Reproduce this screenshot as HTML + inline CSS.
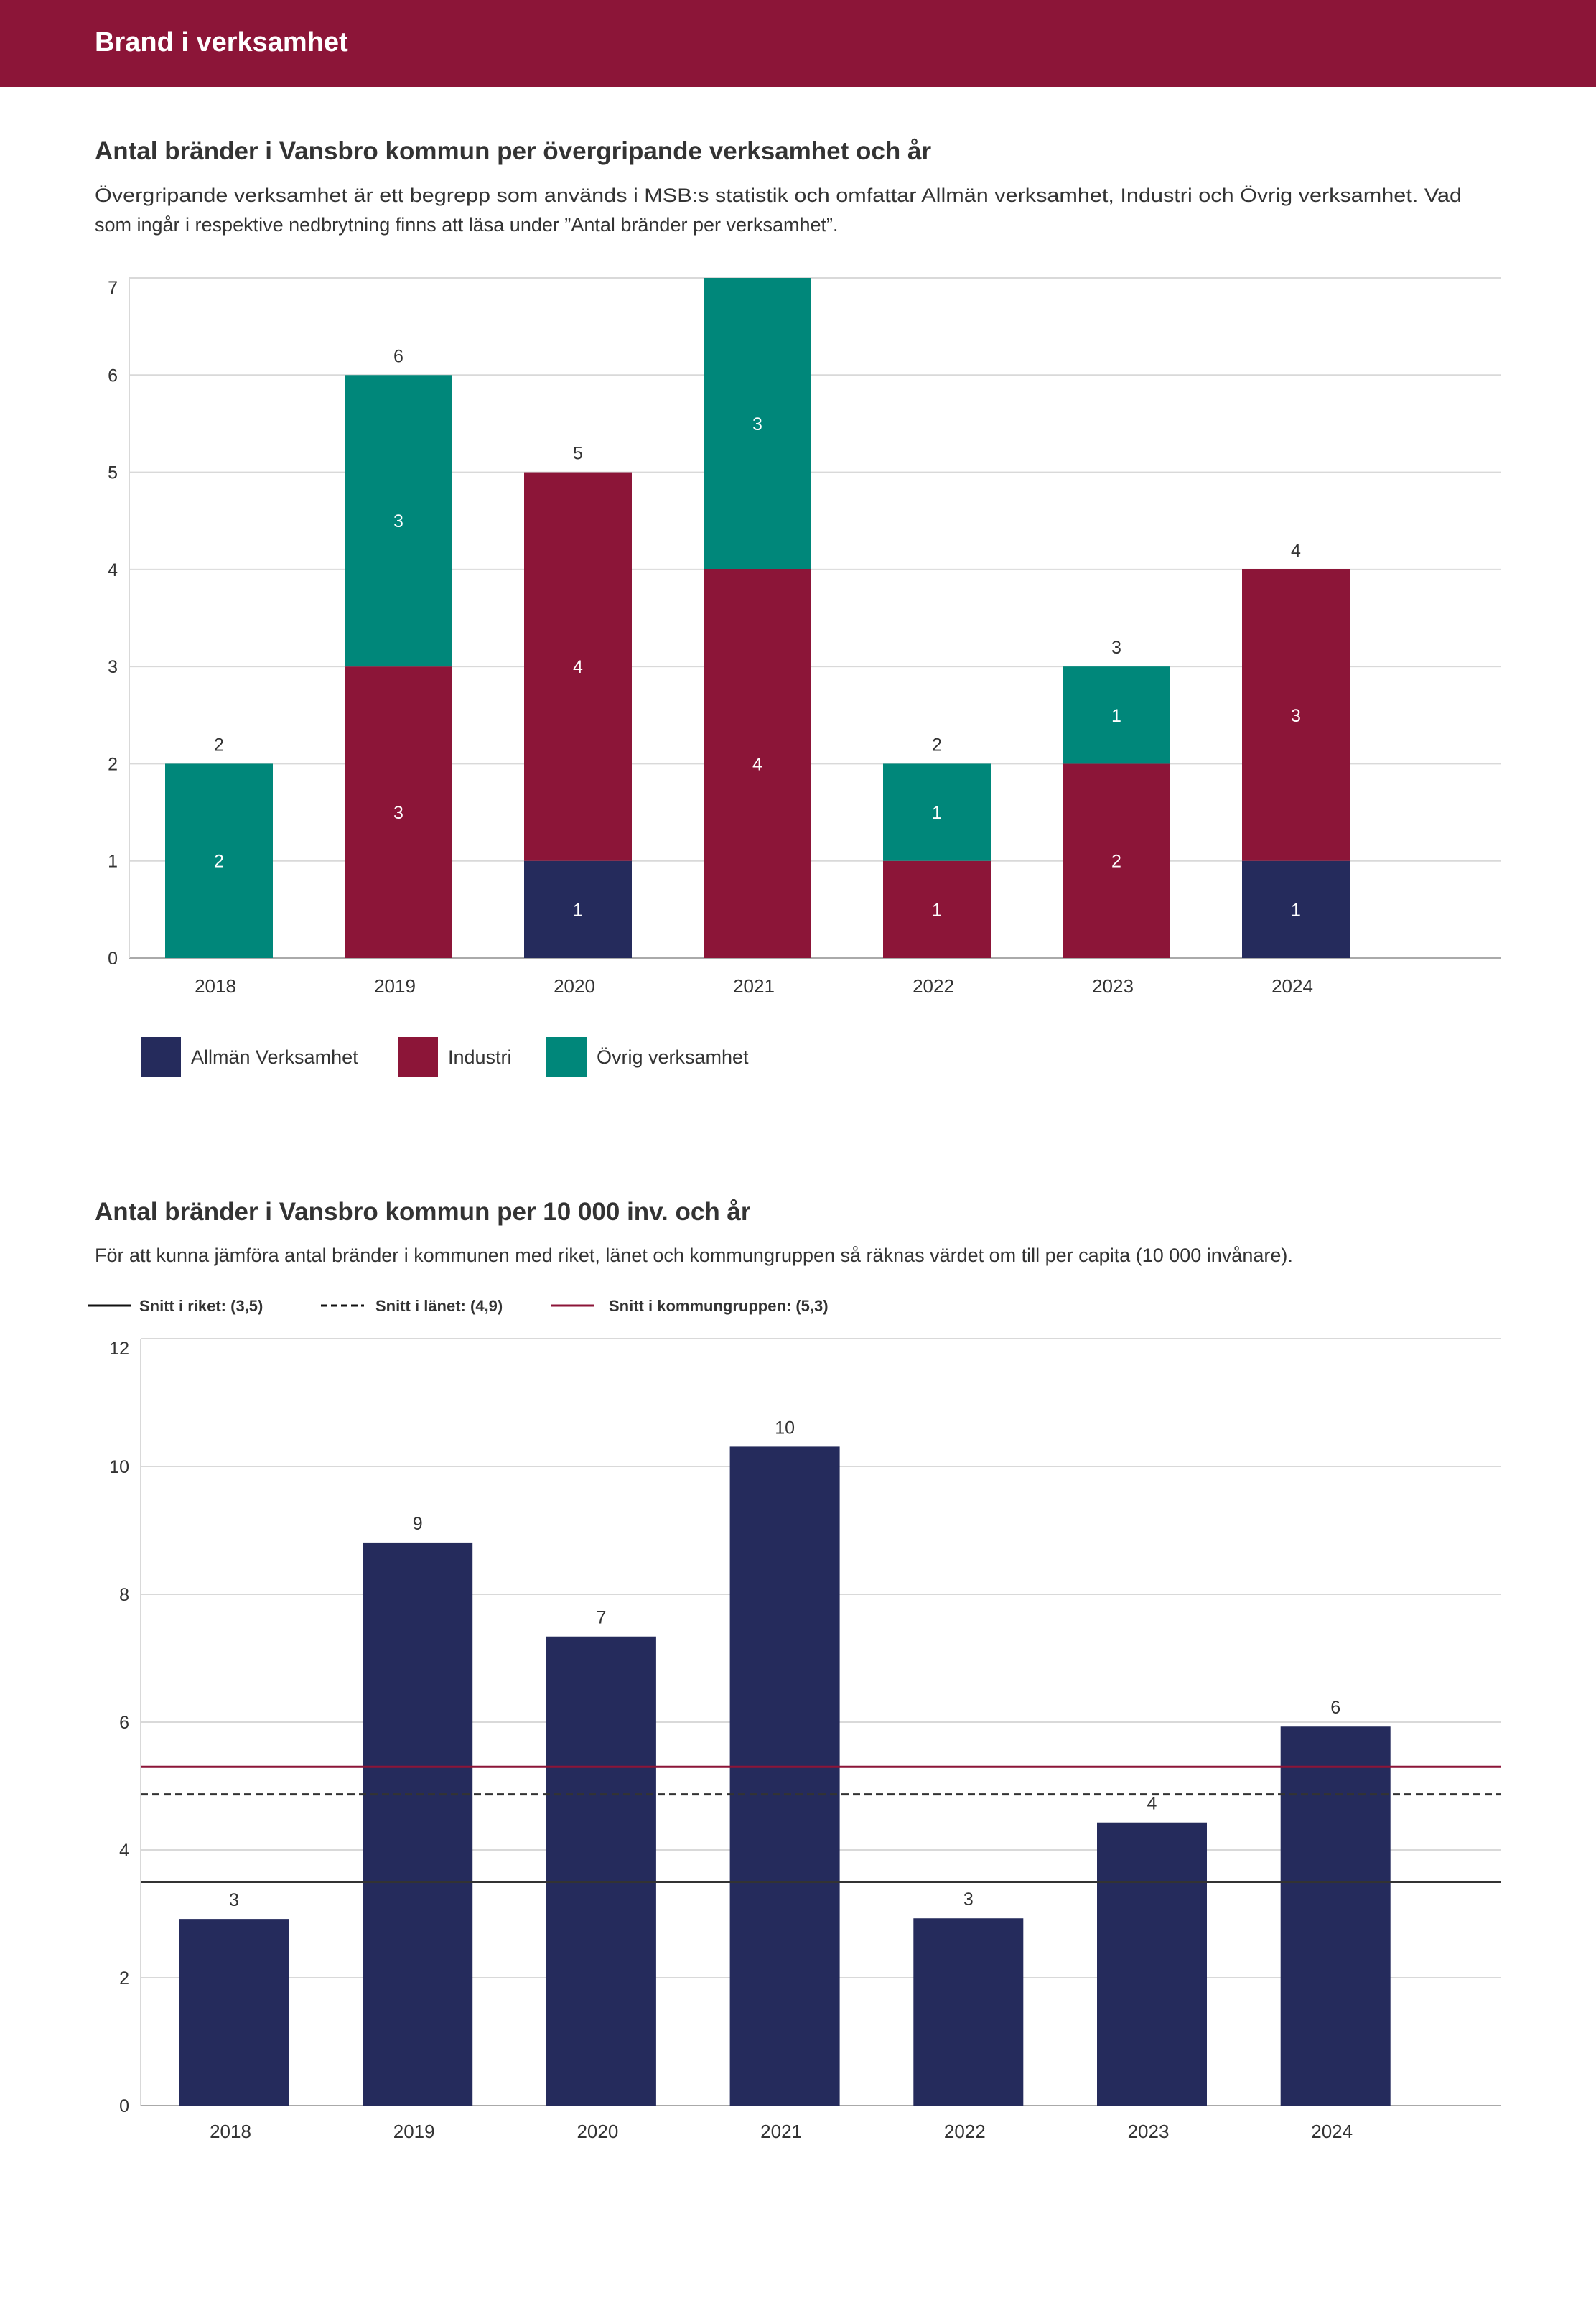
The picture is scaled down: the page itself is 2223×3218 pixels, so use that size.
<!DOCTYPE html>
<html><head><meta charset="utf-8">
<style>
html,body{margin:0;padding:0;background:#fff;}
body{width:2223px;height:3213px;overflow:hidden;font-family:"Liberation Sans",sans-serif;}
svg text{font-family:"Liberation Sans",sans-serif;}
</style></head>
<body>
<svg id="page" width="2223" height="3213" viewBox="0 0 2223 3213" xmlns="http://www.w3.org/2000/svg">
<rect x="0" y="0" width="2223" height="121" fill="#8c1538"/>
<text x="132" y="71" font-size="38" font-weight="bold" fill="#fff">Brand i verksamhet</text>

<text x="132" y="222" font-size="35" font-weight="bold" fill="#333">Antal bränder i Vansbro kommun per övergripande verksamhet och år</text>
<text x="132" y="281" font-size="27" fill="#333" textLength="1904" lengthAdjust="spacingAndGlyphs">Övergripande verksamhet är ett begrepp som används i MSB:s statistik och omfattar Allmän verksamhet, Industri och Övrig verksamhet. Vad</text>
<text x="132" y="322" font-size="27" fill="#333">som ingår i respektive nedbrytning finns att läsa under ”Antal bränder per verksamhet”.</text>
<g id="chart1"></g>

<text x="132" y="1699" font-size="35" font-weight="bold" fill="#333">Antal bränder i Vansbro kommun per 10 000 inv. och år</text>
<text x="132" y="1757" font-size="27" fill="#333">För att kunna jämföra antal bränder i kommunen med riket, länet och kommungruppen så räknas värdet om till per capita (10 000 invånare).</text>
<g id="chart2"></g>
</svg>
<script>
const NS="http://www.w3.org/2000/svg";
function mk(parent,tag,attrs,txt){const e=document.createElementNS(NS,tag);for(const k in attrs)e.setAttribute(k,attrs[k]);if(txt!==undefined)e.textContent=txt;parent.appendChild(e);return e;}

// ---- Chart 1 data ----
const years1=["2018","2019","2020","2021","2022","2023","2024"];
const allman=[0,0,1,0,0,0,1];
const industri=[0,3,4,4,1,2,3];
const ovrig=[2,3,0,3,1,1,0];
const yTicks1=[0,1,2,3,4,5,6,7];
const seriesNames1=["Allmän Verksamhet","Industri","Övrig verksamhet"];

// ---- Chart 2 data ----
const years2=["2018","2019","2020","2021","2022","2023","2024"];
const perCapita=[2.92,8.81,7.34,10.31,2.93,4.43,5.93];
const perCapitaLabels=["3","9","7","10","3","4","6"];
const yTicks2=[0,2,4,6,8,10,12];
const avgRiket=3.5, avgLanet=4.87, avgGrupp=5.3;
const avgLabels=["Snitt i riket: (3,5)","Snitt i länet: (4,9)","Snitt i kommungruppen: (5,3)"];

const NAVY="#252b5c",MAROON="#8c1538",TEAL="#00877a",GRID="#d9d9d9",TXT="#333";

// Chart 1
(function(){
  const g=document.getElementById("chart1");
  const L=180,R=2090,Y0=1334,Ytop=387,maxV=7,band=250,bw=150;
  const y=v=>Y0-(v/maxV)*(Y0-Ytop);
  const x=i=>L+band*i+band/2;
  yTicks1.forEach(t=>{
    const ln=mk(g,"line",{x1:L,x2:R,y1:y(t),y2:y(t),stroke:t===0?"#aaa":GRID,"stroke-width":2});
    
    
    const tx=mk(g,"text",{x:L-16,y:y(t)+(t===maxV?22:9),"font-size":25,fill:TXT,"text-anchor":"end"},t);
    
    
  });
  const ax=mk(g,"line",{x1:L,x2:L,y1:Ytop,y2:Y0,stroke:GRID,"stroke-width":2});
  
  
  const series=[[allman,NAVY],[industri,MAROON],[ovrig,TEAL]];
  years1.forEach((yr,i)=>{
    let base=0;
    series.forEach(([arr,col])=>{
      const v=arr[i]; if(!v)return;
      const r=mk(g,"rect",{x:x(i)-bw/2,y:y(base+v),width:bw,height:y(base)-y(base+v),fill:col});
      
      
      const t=mk(g,"text",{x:x(i),y:y(base+v/2)+9,"font-size":25,fill:"#fff","text-anchor":"middle"},v);
      
      
      base+=v;
    });
    if(base<maxV){
      const tot=mk(g,"text",{x:x(i),y:y(base)-18,"font-size":25,fill:TXT,"text-anchor":"middle"},base);
      
      
    }
    const xl=mk(g,"text",{x:x(i)-5,y:1382,"font-size":26,fill:TXT,"text-anchor":"middle"},yr);
    
    
  });
  const lx=[196,554,761],cols=[NAVY,MAROON,TEAL];
  seriesNames1.forEach((n,k)=>{
    const s=mk(g,"rect",{x:lx[k],y:1444,width:56,height:56,fill:cols[k]});
    
    
    const t=mk(g,"text",{x:lx[k]+70,y:1481,"font-size":27,fill:TXT},n);
    
    
  });
})();

// Chart 2
(function(){
  const g=document.getElementById("chart2");
  const L=196,R=2090,Y0=2932,Ytop=1864,maxV=12,band=255.7,bw=153;
  const y=v=>Y0-(v/maxV)*(Y0-Ytop);
  const x=i=>326+band*i;
  const leg=[[122,"#111",null,194],[447,"#111","9 5",523],[767,MAROON,null,848]];
  leg.forEach(([lx,c,d,tx],k)=>{
    const a={x1:lx,x2:lx+60,y1:1818,y2:1818,stroke:c,"stroke-width":3};
    if(d)a["stroke-dasharray"]=d;
    const l=mk(g,"line",a);
    
    
    const t=mk(g,"text",{x:tx,y:1826,"font-size":22,"font-weight":"bold",fill:TXT},avgLabels[k]);
    
    
  });
  yTicks2.forEach(t=>{
    const ln=mk(g,"line",{x1:L,x2:R,y1:y(t),y2:y(t),stroke:t===0?"#aaa":GRID,"stroke-width":2});
    
    
    const tx=mk(g,"text",{x:L-16,y:y(t)+(t===maxV?22:9),"font-size":25,fill:TXT,"text-anchor":"end"},t);
    
    
  });
  const ax=mk(g,"line",{x1:L,x2:L,y1:Ytop,y2:Y0,stroke:GRID,"stroke-width":2});
  
  
  years2.forEach((yr,i)=>{
    const v=perCapita[i];
    const r=mk(g,"rect",{x:x(i)-bw/2,y:y(v),width:bw,height:Y0-y(v),fill:NAVY});
    
    
    const t=mk(g,"text",{x:x(i),y:y(v)-18,"font-size":25,fill:TXT,"text-anchor":"middle"},perCapitaLabels[i]);
    
    
    const xl=mk(g,"text",{x:x(i)-5,y:2977,"font-size":26,fill:TXT,"text-anchor":"middle"},yr);
    
    
  });
  [[avgRiket,"#333",null,"avg-riket-line"],[avgLanet,"#333","10 6","avg-lanet-line"],[avgGrupp,MAROON,null,"avg-kommungrupp-line"]].forEach(([v,c,d,n])=>{
    const a={x1:L,x2:R,y1:y(v),y2:y(v),stroke:c,"stroke-width":3};
    if(d)a["stroke-dasharray"]=d;
    const l=mk(g,"line",a);
    
    
  });
})();
</script>
</body></html>
